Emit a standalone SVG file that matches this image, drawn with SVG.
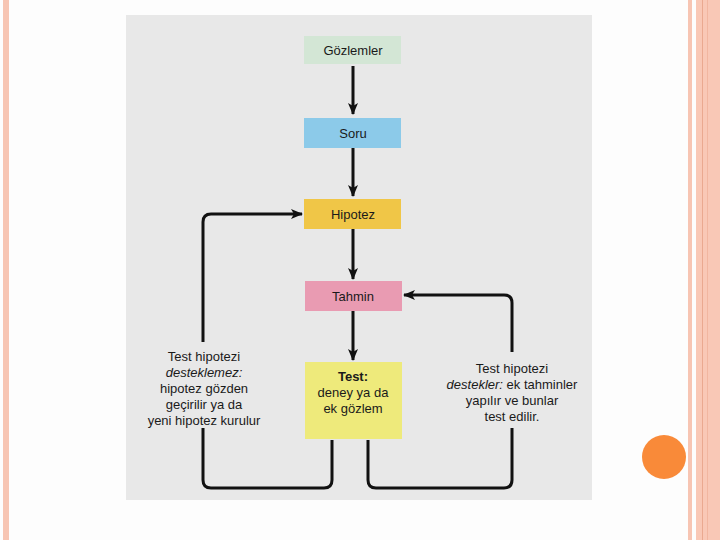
<svg xmlns="http://www.w3.org/2000/svg" width="720" height="540" viewBox="0 0 720 540">
<style>
.t{font-family:"Liberation Sans","DejaVu Sans",sans-serif;font-size:13px;fill:#1a1a1a;text-anchor:middle}
.i{font-style:italic}
.b{font-weight:bold}
.c{fill:none;stroke:#111;stroke-width:3;stroke-linejoin:round}
</style>
<defs>
<marker id="ah" viewBox="0 0 12 10" refX="11" refY="5" markerWidth="12" markerHeight="10" markerUnits="userSpaceOnUse" orient="auto">
<path d="M0,0 L12,5 L0,10 L3,5 Z" fill="#111"/>
</marker>
</defs>
<rect width="720" height="540" fill="#fdfdfd"/>
<rect x="3" y="0" width="6" height="540" fill="#f7c5b3"/>
<rect x="688" y="0" width="4" height="540" fill="#f7c5b3"/>
<rect x="696" y="0" width="24" height="540" fill="#f9c8b6"/>
<rect x="702" y="0" width="1" height="540" fill="#eaa990"/>
<rect x="707" y="0" width="1" height="540" fill="#f1b6a0"/>
<circle cx="664" cy="457" r="22" fill="#f98a39"/>
<rect x="126" y="15" width="466" height="485" fill="#e8e8e8"/>
<g id="connectors">
<path class="c" d="M353,66 V114" marker-end="url(#ah)"/>
<path class="c" d="M353,148 V196" marker-end="url(#ah)"/>
<path class="c" d="M353,229 V279" marker-end="url(#ah)"/>
<path class="c" d="M353,311 V360" marker-end="url(#ah)"/>
<path class="c" d="M332,440 V480 Q332,488 324,488 H211 Q203,488 203,480 V222 Q203,214 211,214 H302" marker-end="url(#ah)"/>
<path class="c" d="M368,440 V480 Q368,488 376,488 H504 Q512,488 512,480 V303 Q512,295 504,295 H404" marker-end="url(#ah)"/>
</g>
<rect x="140" y="342" width="128" height="86" fill="#e8e8e8"/>
<rect x="440" y="352" width="146" height="76" fill="#e8e8e8"/>
<g id="n-gozlemler">
<rect x="304" y="36" width="97" height="28" fill="#d3e6d5"/>
<text class="t" x="353" y="55">Gözlemler</text>
</g>
<g id="n-soru">
<rect x="304" y="118" width="97" height="30" fill="#8ccae9"/>
<text class="t" x="353" y="138">Soru</text>
</g>
<g id="n-hipotez">
<rect x="304" y="199" width="97" height="30" fill="#f0c647"/>
<text class="t" x="353" y="219">Hipotez</text>
</g>
<g id="n-tahmin">
<rect x="305" y="281" width="97" height="30" fill="#e99bb2"/>
<text class="t" x="353" y="301">Tahmin</text>
</g>
<g id="n-test">
<rect x="305" y="362" width="97" height="77" fill="#eeea7b"/>
<text class="t b" x="353" y="381">Test:</text>
<text class="t" x="353" y="397">deney ya da</text>
<text class="t" x="353" y="413">ek gözlem</text>
</g>
<g id="label-left">
<text class="t" x="204" y="361">Test hipotezi</text>
<text class="t i" x="204" y="377">desteklemez:</text>
<text class="t" x="204" y="393">hipotez gözden</text>
<text class="t" x="204" y="409">geçirilir ya da</text>
<text class="t" x="204" y="425">yeni hipotez kurulur</text>
</g>
<g id="label-right">
<text class="t" x="512" y="373">Test hipotezi</text>
<text class="t" x="512" y="389"><tspan class="i">destekler:</tspan> ek tahminler</text>
<text class="t" x="512" y="405">yapılır ve bunlar</text>
<text class="t" x="512" y="421">test edilir.</text>
</g>
</svg>
